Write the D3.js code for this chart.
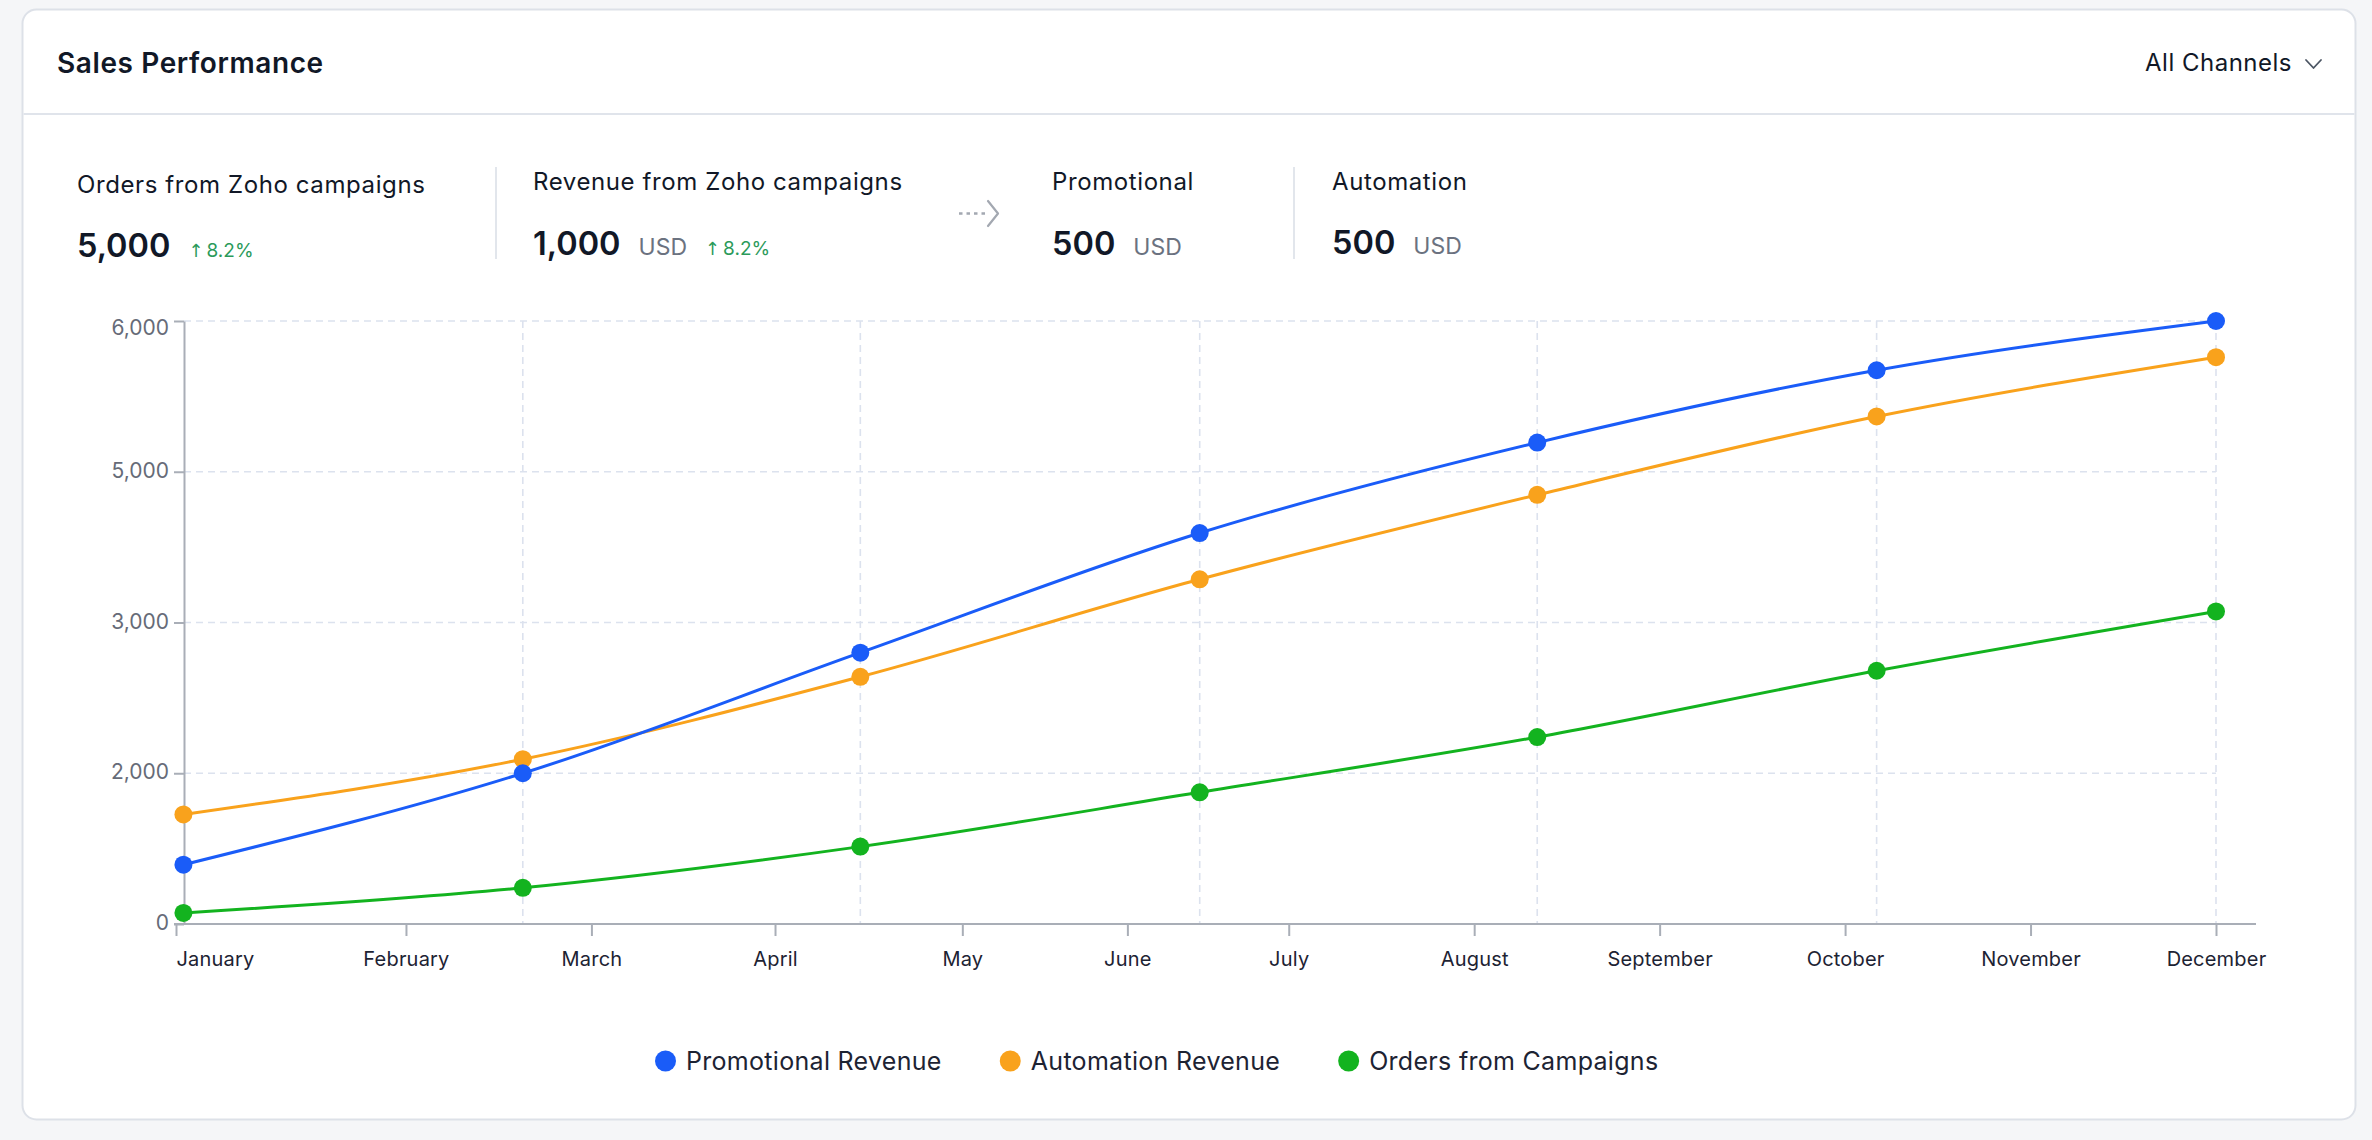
<!DOCTYPE html>
<html>
<head>
<meta charset="utf-8">
<script src="https://cdn.jsdelivr.net/npm/d3@7/dist/d3.min.js"></script>
<style>
  html, body { margin: 0; padding: 0; background: #f5f6f8; }
  svg { display: block; font-family: Inter, "Noto Sans", sans-serif; }
</style>
</head>
<body>
<svg id="chart" width="2372" height="1140"></svg>
<script>
// ---------- data ----------
const months = ["January","February","March","April","May","June","July","August","September","October","November","December"];
const monthTicks = [0, 1.24, 2.24, 3.23, 4.24, 5.13, 6, 7, 8, 9, 10, 11];   // month label positions (month units)
const pointMonths = [0.04, 1.87, 3.69, 5.52, 7.34, 9.17, 11];               // data point positions (month units)
const promotionalRevenue = [590, 1500, 2700, 3890, 4790, 5510, 6000];
const automationRevenue  = [1090, 1640, 2460, 3430, 4270, 5050, 5640];
const ordersFromCampaigns = [110, 360, 770, 1310, 1860, 2520, 3110];
const seriesNames = ["Promotional Revenue", "Automation Revenue", "Orders from Campaigns"];
const seriesColors = ["#1a5cf8", "#f9a21c", "#13b31f"];
const yTickValues = [0, 1500, 3000, 4500, 6000];
const yTickLabels = ["0", "2,000", "3,000", "5,000", "6,000"];

const kpiLabels = ["Orders from Zoho campaigns", "Revenue from Zoho campaigns", "Promotional", "Automation"];
const kpiValues = ["5,000", "1,000", "500", "500"];
const kpiUnits  = ["", "USD", "USD", "USD"];
const kpiChange = ["8.2%", "8.2%", "", ""];

const title = "Sales Performance";
const filterLabel = "All Channels";

// ---------- layout ----------
const svg = d3.select("#chart");
const card = {x: 22.5, y: 9.5, w: 2333, h: 1110};
const plot = {left: 184, top: 321, bottom: 924};

// card
svg.append("rect").attr("x", card.x).attr("y", card.y).attr("width", card.w).attr("height", card.h)
  .attr("rx", 14).attr("fill", "#fff").attr("stroke", "#dde1e8").attr("stroke-width", 2);
svg.append("line").attr("x1", card.x + 1).attr("x2", card.x + card.w - 1).attr("y1", 114).attr("y2", 114)
  .attr("stroke", "#e0e4eb").attr("stroke-width", 2);

// header
svg.append("text").attr("x", 57).attr("y", 73).attr("font-size", 28).attr("font-weight", 600)
  .attr("letter-spacing", 0.6).attr("fill", "#111827").text(title);
svg.append("text").attr("x", 2292).attr("y", 71).attr("text-anchor", "end").attr("font-size", 24)
  .attr("letter-spacing", 0.5).attr("fill", "#111827").text(filterLabel);
svg.append("path").attr("d", "M2306,60 L2313.5,68 L2321,60").attr("fill", "none")
  .attr("stroke", "#4b5563").attr("stroke-width", 1.8).attr("stroke-linecap", "round").attr("stroke-linejoin", "round");

// KPI row
const kpiX = [77, 533, 1052, 1332];
const kpiLabelY = [193, 190, 190, 190];
const kpiValueY = [257, 255, 255, 254];
kpiLabels.forEach((lab, i) => {
  const g = svg.append("g");
  g.append("text").attr("x", kpiX[i]).attr("y", kpiLabelY[i]).attr("font-size", 24)
    .attr("letter-spacing", 0.6).attr("fill", "#111827").text(lab);
  const v = g.append("text").attr("x", kpiX[i]).attr("y", kpiValueY[i]).attr("font-size", 32.5)
    .attr("font-weight", 600).attr("fill", "#111827").text(kpiValues[i]);
  let cx = kpiX[i] + v.node().getComputedTextLength();
  if (kpiUnits[i]) {
    const u = g.append("text").attr("x", cx + 18).attr("y", kpiValueY[i]).attr("font-size", 23)
      .attr("fill", "#6b7280").text(kpiUnits[i]);
    cx = cx + 18 + u.node().getComputedTextLength();
  }
  if (kpiChange[i]) {
    const t = g.append("text").attr("x", cx + 18).attr("y", kpiValueY[i]).attr("font-size", 19)
      .attr("fill", "#2b9a5a");
    t.append("tspan").attr("font-family", "DejaVu Sans").attr("font-size", 18).text("↑");
    t.append("tspan").attr("dx", 3).text(kpiChange[i]);
  }
});
// dividers
[496, 1294].forEach(xp => {
  svg.append("line").attr("x1", xp).attr("x2", xp).attr("y1", 167).attr("y2", 259)
    .attr("stroke", "#e2e6ec").attr("stroke-width", 2);
});
// dotted arrow
svg.append("line").attr("x1", 959).attr("x2", 986).attr("y1", 213.5).attr("y2", 213.5)
  .attr("stroke", "#a3a8b1").attr("stroke-width", 2.5).attr("stroke-dasharray", "3.5,4");
svg.append("path").attr("d", "M988,201 L998,213.5 L988,226").attr("fill", "none")
  .attr("stroke", "#a3a8b1").attr("stroke-width", 2.2).attr("stroke-linecap", "round").attr("stroke-linejoin", "round");

// ---------- scales ----------
const x = d3.scaleLinear().domain([0, 11]).range([176, 2216]);
const y = d3.scaleLinear().domain([0, 6000]).range([plot.bottom, plot.top]);

const gridColor = "#dce2ee";
// horizontal grid
svg.append("g").selectAll("line").data(yTickValues.filter(v => v > 0)).join("line")
  .attr("x1", plot.left).attr("x2", x(11)).attr("y1", d => y(d)).attr("y2", d => y(d))
  .attr("stroke", gridColor).attr("stroke-width", 1.6).attr("stroke-dasharray", "7,5");
// vertical grid at data points
svg.append("g").selectAll("line").data(pointMonths.slice(1)).join("line")
  .attr("x1", d => x(d)).attr("x2", d => x(d)).attr("y1", plot.top).attr("y2", plot.bottom)
  .attr("stroke", gridColor).attr("stroke-width", 1.6).attr("stroke-dasharray", "7,5");

// y axis
const yAxis = svg.append("g").attr("transform", `translate(${plot.left},0)`)
  .call(d3.axisLeft(y).tickValues(yTickValues).tickFormat((d, i) => yTickLabels[i]).tickSize(10).tickSizeOuter(0).tickPadding(5));
yAxis.select(".domain").attr("stroke", "#a9aeb7").attr("stroke-width", 2);
yAxis.selectAll(".tick line").attr("stroke", "#a9aeb7").attr("stroke-width", 2);
yAxis.selectAll(".tick text").attr("font-size", 21).attr("fill", "#666b78").attr("font-family", "Inter, sans-serif")
  .attr("dy", null).attr("dominant-baseline", "central")
  .attr("y", (d) => (y(d) < plot.top + 3 ? 6 : -2));

// x axis
const xAxis = svg.append("g").attr("transform", `translate(0,${plot.bottom})`)
  .call(d3.axisBottom(x).tickValues(monthTicks).tickFormat((d, i) => months[i]).tickSize(12).tickSizeOuter(0).tickPadding(16));
xAxis.select(".domain").remove();
xAxis.append("line").attr("x1", x.range()[0] - 2).attr("x2", x.range()[1] + 40).attr("y1", 0).attr("y2", 0)
  .attr("stroke", "#a9aeb7").attr("stroke-width", 2);
xAxis.selectAll(".tick line").attr("stroke", "#a9aeb7").attr("stroke-width", 2);
xAxis.selectAll(".tick text").attr("font-size", 20).attr("fill", "#1d2333").attr("font-family", "Inter, sans-serif")
  .attr("letter-spacing", 0.2).attr("text-anchor", (d, i) => i === 0 ? "start" : "middle");

// ---------- series ----------
const series = [promotionalRevenue, automationRevenue, ordersFromCampaigns];
const line = d3.line().x((d, i) => x(pointMonths[i])).y(d => y(d)).curve(d3.curveMonotoneX);
const order = [2, 1, 0];
order.forEach(si => {
  svg.append("path").datum(series[si]).attr("d", line).attr("fill", "none")
    .attr("stroke", seriesColors[si]).attr("stroke-width", 3);
});
order.forEach(si => {
  svg.append("g").selectAll("circle").data(series[si]).join("circle")
    .attr("cx", (d, i) => x(pointMonths[i])).attr("cy", d => y(d)).attr("r", 9)
    .attr("fill", seriesColors[si]);
});

// ---------- legend ----------
const legend = svg.append("g");
let lx = 655;
seriesNames.forEach((name, i) => {
  legend.append("circle").attr("cx", lx + 10.5).attr("cy", 1061).attr("r", 10.5).attr("fill", seriesColors[i]);
  const t = legend.append("text").attr("x", lx + 31).attr("y", 1070).attr("font-size", 25)
    .attr("letter-spacing", 0.3).attr("fill", "#1d2333").text(name);
  lx = lx + 31 + t.node().getComputedTextLength() + 58;
});
</script>
</body>
</html>
